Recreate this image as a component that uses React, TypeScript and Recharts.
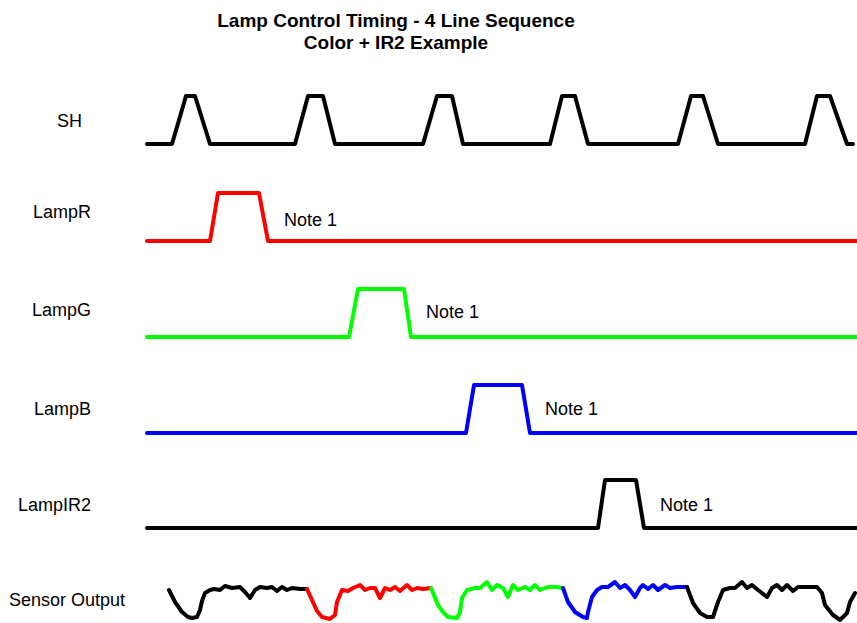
import React from 'react';
import { LineChart, Line, XAxis, YAxis } from 'recharts';

// ---- Data (time units along the diagram, signal levels) ----
const traceStart = 147;
const traceEnd = 857;
const shEnd = 853;

// SH pulses: [riseStart, highStart, highEnd, fallEnd]
const shPulses = [
  [172, 186, 195, 210],
  [295, 308, 323, 335],
  [423, 437, 452, 463],
  [550, 562, 575, 588],
  [678, 691, 703, 718],
  [805, 817, 830, 847],
];
const lampRPulse = [210, 218, 259, 268];
const lampGPulse = [349, 358, 404, 411];
const lampBPulse = [466, 474, 522, 530];
const lampIR2Pulse = [598, 605, 636, 644];

// Sensor output: [time, level]
const sensorBlack1 = [
  [169, -1], [175, -13], [182, -23], [188, -28], [192, -29], [197, -28], [200, -21], [202, -12],
  [205, -4], [210, -1], [214, 0], [220, -1], [225, 3], [232, 1], [240, 2], [245, -3], [250, -9],
  [255, -1], [260, 2], [267, 1], [272, 2], [277, -2], [282, 2], [287, -1], [292, 1], [300, 0], [307, 0],
];
const sensorRed = [
  [307, 0], [312, -11], [317, -22], [322, -28], [330, -30], [335, -26], [337, -13], [342, -1],
  [348, -2], [353, 1], [360, 4], [365, -1], [370, 1], [375, 1], [380, -9], [385, 1], [390, -1],
  [395, 2], [400, -2], [407, 4], [412, -1], [417, 1], [423, 0], [431, 1],
];
const sensorGreen = [
  [431, 1], [438, -16], [443, -23], [448, -28], [457, -29], [460, -23], [462, -9], [467, -1],
  [475, 1], [480, 1], [487, 7], [492, -1], [497, 4], [503, 1], [508, -8], [513, 4], [518, -1],
  [525, 2], [530, -1], [535, 4], [540, -1], [548, 2], [557, 2], [563, 1],
];
const sensorBlue = [
  [563, 1], [568, -13], [575, -23], [583, -28], [587, -29], [588, -23], [592, -8], [597, -1],
  [602, 2], [608, 2], [615, 7], [620, 1], [625, 4], [630, -1], [635, -8], [640, 1], [643, 4],
  [648, 0], [653, 4], [658, -1], [665, 4], [670, 1], [677, 2], [687, 2],
];
const sensorBlack2 = [
  [687, 2], [693, -14], [700, -24], [707, -28], [713, -28], [718, -13], [723, -1], [730, 1],
  [735, 1], [742, 7], [747, 1], [752, 4], [758, -1], [767, -8], [772, 1], [777, 4], [782, -1],
  [787, 4], [793, -2], [798, 2], [807, 2], [817, 2], [822, -4], [825, -16], [833, -26], [840, -31],
  [847, -24], [850, -13], [855, -4],
];

const titleLines = ['Lamp Control Timing - 4 Line Sequence', 'Color + IR2 Example'];
const noteText = 'Note 1';

// ---- Layout ----
const W = 857;
const H = 623;
const AMP = 48;
const FONT = '"Liberation Sans", Arial, Helvetica, sans-serif';

const pulseTrain = (start: number, end: number, pulses: number[][], base: number) => {
  const pts: { t: number; y: number }[] = [{ t: start, y: base }];
  pulses.forEach(([a, b, c, d]) => {
    pts.push({ t: a, y: base });
    pts.push({ t: b, y: base - AMP });
    pts.push({ t: c, y: base - AMP });
    pts.push({ t: d, y: base });
  });
  pts.push({ t: end, y: base });
  return pts;
};

const analog = (arr: number[][], base: number) => arr.map(([t, v]) => ({ t, y: base - v }));

const SENSOR_BASE = 589;

const series = [
  { key: 'sh', color: '#000000', data: pulseTrain(traceStart, shEnd, shPulses, 144) },
  { key: 'r', color: '#ff0000', data: pulseTrain(traceStart, traceEnd, [lampRPulse], 241) },
  { key: 'g', color: '#00ff00', data: pulseTrain(traceStart, traceEnd, [lampGPulse], 337) },
  { key: 'b', color: '#0000ff', data: pulseTrain(traceStart, traceEnd, [lampBPulse], 433) },
  { key: 'ir', color: '#000000', data: pulseTrain(traceStart, traceEnd, [lampIR2Pulse], 528) },
  { key: 's1', color: '#000000', data: analog(sensorBlack1, SENSOR_BASE) },
  { key: 's2', color: '#ff0000', data: analog(sensorRed, SENSOR_BASE) },
  { key: 's3', color: '#00ff00', data: analog(sensorGreen, SENSOR_BASE) },
  { key: 's4', color: '#0000ff', data: analog(sensorBlue, SENSOR_BASE) },
  { key: 's5', color: '#000000', data: analog(sensorBlack2, SENSOR_BASE) },
];

const laneLabels = [
  { text: 'SH', x: 57, y: 127, anchor: 'start' },
  { text: 'LampR', x: 91, y: 218, anchor: 'end' },
  { text: 'LampG', x: 91, y: 316, anchor: 'end' },
  { text: 'LampB', x: 91, y: 415, anchor: 'end' },
  { text: 'LampIR2', x: 91, y: 511, anchor: 'end' },
  { text: 'Sensor Output', x: 9, y: 606, anchor: 'start' },
];

const notes = [
  { x: 284, y: 226 },
  { x: 426, y: 318 },
  { x: 545, y: 415 },
  { x: 660, y: 511 },
];

export default function App() {
  return (
    <div style={{ position: 'absolute', left: 0, top: 0, width: W, height: H, background: '#fff' }}>
      <LineChart width={W} height={H} margin={{ top: 0, right: 0, bottom: 0, left: 0 }}>
        <XAxis type="number" dataKey="t" domain={[0, W]} hide allowDataOverflow />
        <YAxis type="number" domain={[0, H]} reversed hide allowDataOverflow />
        {series.map((s) => (
          <Line
            key={s.key}
            data={s.data}
            dataKey="y"
            type="linear"
            stroke={s.color}
            strokeWidth={4}
            strokeLinejoin="round"
            strokeLinecap="round"
            dot={false}
            activeDot={false}
            isAnimationActive={false}
          />
        ))}
      </LineChart>
      <svg width={W} height={H} style={{ position: 'absolute', left: 0, top: 0, pointerEvents: 'none' }}>
        {titleLines.map((t, i) => (
          <text key={t} x={396} y={27 + i * 22} textAnchor="middle" fontFamily={FONT} fontWeight="bold" fontSize={19} fill="#000">
            {t}
          </text>
        ))}
        {laneLabels.map((l) => (
          <text key={l.text} x={l.x} y={l.y} textAnchor={l.anchor as any} fontFamily={FONT} fontSize={18} fill="#000">
            {l.text}
          </text>
        ))}
        {notes.map((n, i) => (
          <text key={i} x={n.x} y={n.y} fontFamily={FONT} fontSize={18} fill="#000">
            {noteText}
          </text>
        ))}
      </svg>
    </div>
  );
}
